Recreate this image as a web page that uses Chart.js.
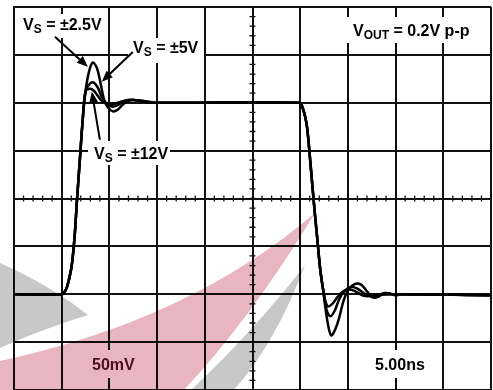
<!DOCTYPE html>
<html>
<head>
<meta charset="utf-8">
<script src="https://cdn.jsdelivr.net/npm/chart.js@4.4.0/dist/chart.umd.min.js"></script>
<style>
  body { margin: 0; background: #fff; }
  #wrap { position: relative; width: 493px; height: 390px; overflow: hidden; }
  canvas { position: absolute; left: 0; top: 0; }
  .lbl {
    position: absolute;
    font: bold 16px "Liberation Sans", Arial, sans-serif;
    line-height: 16px;
    color: #000;
    white-space: nowrap;
  }
  .lbl .sub { font-size: 12px; position: relative; top: 3px; }
</style>
</head>
<body>
<div id="wrap">
  <canvas id="scope" width="493" height="390"></canvas>
  <div class="lbl" style="left:23px; top:17px;">V<span class="sub">S</span> = ±2.5V</div>
  <div class="lbl" style="left:133px; top:40px;">V<span class="sub">S</span> = ±5V</div>
  <div class="lbl" style="left:94px; top:146px;">V<span class="sub">S</span> = ±12V</div>
  <div class="lbl" style="left:353px; top:23px;">V<span class="sub">OUT</span> = 0.2V p-p</div>
  <div class="lbl" style="left:92px; top:357px; color:#4a0f1a;">50mV</div>
  <div class="lbl" style="left:375px; top:357px;">5.00ns</div>
</div>
<script>
// =========================
// DATA (time in ns, output in mV)
// =========================
const riseTimes  = [0, 5.0, 5.45, 5.75, 6.05, 6.35, 6.6, 6.9, 7.2, 7.5];
const riseValues = [-100, -100, -95, -85, -70, -40, -2, 40, 82, 112];

const fallTimes  = [29.9, 30.25, 30.65, 30.95, 31.4, 31.8, 32.1, 32.4];
const fallValues = [100, 95, 79, 51, -1, -43, -74, -95];

// overshoot / ringing after the rising edge
const ring25Times  = [7.85, 8.25, 8.7, 9.1, 9.45, 9.85, 10.35, 10.9, 11.4, 11.95, 12.55, 13.2, 13.8, 14.5];
const ring25Values = [132, 142, 136, 119, 103, 95, 91, 93, 98, 102, 103, 102, 100.5, 100];
const ring5Times   = [7.95, 8.37, 8.8, 9.2, 9.73, 10.25, 10.77, 11.3, 11.9, 12.55, 13.2, 14.0, 14.85];
const ring5Values  = [120, 121, 115.5, 106, 99, 96, 97, 100, 103, 103, 102, 101, 100];
const ring12Times  = [7.95, 8.37, 8.8, 9.2, 9.73, 10.25, 10.88, 11.6, 12.45, 13.4, 14.2, 15.06];
const ring12Values = [114.5, 112.5, 107, 102, 99, 98, 100, 102, 103, 102, 101, 100];

// undershoot / ringing after the falling edge
const tail25Times  = [32.85, 33.25, 33.7, 34.1, 34.6, 35.15, 35.8, 36.4, 37.0, 37.55, 38.1, 38.7, 39.3, 40.0, 40.6, 50];
const tail25Values = [-128, -143, -136, -124, -105, -94, -89, -90, -97, -103, -103, -99, -99, -101, -100, -101];
const tail5Times   = [32.74, 33.16, 33.6, 34.1, 34.6, 35.35, 35.98, 36.7, 37.45, 38.3, 39.1, 50];
const tail5Values  = [-115.5, -123, -117.5, -105, -97, -92.5, -94, -99, -102, -101, -100, -101];
const tail12Times  = [32.85, 33.37, 33.9, 34.5, 35.15, 35.77, 36.5, 37.2, 38.3, 50];
const tail12Values = [-112.5, -110, -103, -97, -95, -97, -101, -102, -100, -101];

function pts(times, values) {
  return times.map((t, i) => ({ x: t, y: values[i] }));
}
function trace(ringT, ringV, tailT, tailV) {
  return [].concat(
    pts(riseTimes, riseValues),
    pts(ringT, ringV),
    pts(fallTimes, fallValues),
    pts(tailT, tailV)
  );
}

// =========================
// PLUGINS
// =========================
const scopeDecor = {
  id: "scopeDecor",
  beforeDatasetsDraw(chart) {
    const { ctx, scales: { x, y } } = chart;
    const cx = x.getPixelForValue(25);
    const cy = y.getPixelForValue(0);
    ctx.save();
    ctx.strokeStyle = "#111";
    ctx.lineWidth = 1.3;
    ctx.beginPath();
    for (let v = -200; v <= 200; v += 10) {
      const py = y.getPixelForValue(v);
      ctx.moveTo(cx - 3, py); ctx.lineTo(cx + 3, py);
    }
    for (let t = 0; t <= 50; t += 1) {
      const px = x.getPixelForValue(t);
      ctx.moveTo(px, cy - 3); ctx.lineTo(px, cy + 3);
    }
    ctx.stroke();
    // clear space behind labels
    ctx.fillStyle = "#fff";
    [[18, 14, 90, 24], [128, 38, 76, 25], [88, 141, 82, 24],
     [345, 17, 130, 26], [88, 350, 50, 28], [370, 350, 58, 28]]
      .forEach(r => ctx.fillRect(r[0], r[1], r[2], r[3]));
    ctx.restore();
  },
  afterDraw(chart) {
    const { ctx, scales: { x, y } } = chart;
    // arrows from labels to peaks
    const arrows = [
      [4.29, 169, 7.74, 137.5],
      [12.45, 153, 9.2, 122],
      [9.0, 61.5, 8.16, 111.5]
    ];
    ctx.save();
    ctx.strokeStyle = "#000";
    ctx.fillStyle = "#000";
    ctx.lineWidth = 2;
    arrows.forEach(a => {
      const x0 = x.getPixelForValue(a[0]), y0 = y.getPixelForValue(a[1]);
      const x1 = x.getPixelForValue(a[2]), y1 = y.getPixelForValue(a[3]);
      const ang = Math.atan2(y1 - y0, x1 - x0);
      const L = 11, W = 4.5;
      const bx = x1 - L * Math.cos(ang), by = y1 - L * Math.sin(ang);
      ctx.beginPath();
      ctx.moveTo(x0, y0); ctx.lineTo(bx, by);
      ctx.stroke();
      ctx.beginPath();
      ctx.moveTo(x1, y1);
      ctx.lineTo(bx + W * Math.sin(ang), by - W * Math.cos(ang));
      ctx.lineTo(bx - W * Math.sin(ang), by + W * Math.cos(ang));
      ctx.closePath();
      ctx.fill();
    });

    // faint watermark swooshes
    ctx.globalCompositeOperation = "multiply";
    ctx.fillStyle = "#e9b5c0";
    ctx.beginPath();
    ctx.moveTo(0, 361);
    ctx.quadraticCurveTo(190, 320, 315, 213);
    ctx.quadraticCurveTo(250, 320, 182, 392);
    ctx.lineTo(0, 392);
    ctx.closePath();
    ctx.fill();
    ctx.fillStyle = "#c8c8c8";
    ctx.beginPath();
    ctx.moveTo(189, 392);
    ctx.quadraticCurveTo(255, 330, 305, 265);
    ctx.quadraticCurveTo(275, 345, 232, 392);
    ctx.closePath();
    ctx.fill();
    ctx.beginPath();
    ctx.moveTo(0, 263);
    ctx.quadraticCurveTo(50, 285, 88, 315);
    ctx.quadraticCurveTo(40, 330, 0, 348);
    ctx.closePath();
    ctx.fill();
    ctx.restore();
  }
};

// =========================
// CHART
// =========================
const line = (label, data) => ({
  label,
  data,
  borderColor: "#000",
  borderWidth: 2.5,
  pointRadius: 0,
  tension: 0.35,
  fill: false
});

new Chart(document.getElementById("scope"), {
  type: "line",
  data: {
    datasets: [
      line("VS = ±12V", trace(ring12Times, ring12Values, tail12Times, tail12Values)),
      line("VS = ±5V", trace(ring5Times, ring5Values, tail5Times, tail5Values)),
      line("VS = ±2.5V", trace(ring25Times, ring25Values, tail25Times, tail25Values))
    ]
  },
  options: {
    responsive: false,
    animation: false,
    layout: { padding: { left: 14, top: 7, right: 2, bottom: 0 } },
    plugins: { legend: { display: false }, tooltip: { enabled: false } },
    scales: {
      x: {
        type: "linear", min: 0, max: 50,
        ticks: { display: false, stepSize: 5 },
        grid: { color: "#111", lineWidth: 2, drawTicks: false },
        border: { display: true, color: "#111", width: 2 }
      },
      y: {
        type: "linear", min: -200, max: 200,
        ticks: { display: false, stepSize: 50 },
        grid: { color: "#111", lineWidth: 2, drawTicks: false },
        border: { display: true, color: "#111", width: 2 }
      }
    }
  },
  plugins: [scopeDecor]
});
</script>
</body>
</html>
